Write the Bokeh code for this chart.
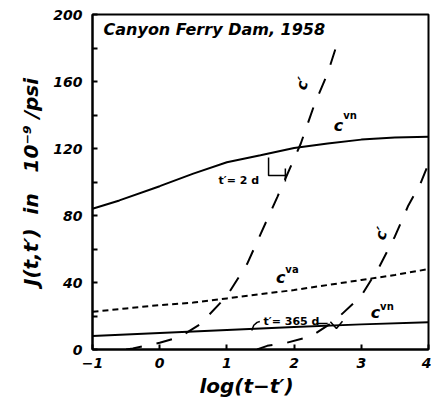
from bokeh.plotting import figure
from bokeh.models import FixedTicker, Range1d
from bokeh.core.properties import value
from bokeh.embed import file_html
from bokeh.resources import INLINE

# ---- data ----
# C^vn for t' = 2 d (solid, upper)
cvn2_x = [-1, -0.6, 0, 0.5, 1.0, 1.5, 2, 2.5, 3, 3.5, 4]
cvn2_y = [84, 89, 97.5, 105, 111.8, 116, 120.3, 123, 125.3, 126.5, 127]
# C^va (short dashes)
cva_x = [-1, -0.5, 0, 0.5, 1, 1.5, 2, 2.5, 3, 3.5, 4]
cva_y = [22.5, 24.5, 26.5, 28, 30.5, 33, 35.5, 38.5, 41.5, 44.5, 48]
# C^vn for t' = 365 d (solid, lower)
cvn365_x = [-1, 0, 1, 2, 3, 4]
cvn365_y = [8, 9.8, 11.7, 13.5, 15, 16.3]
# C' for t' = 2 d (long dashes)
cp2_x = [-0.5, -0.4, 0, 0.3, 0.6, 1.0, 1.3, 1.75, 2.1, 2.3, 2.5, 2.66]
cp2_y = [0, 0.6, 4, 7.5, 15, 32, 51, 91, 123, 146, 165, 185]
# C' for t' = 365 d (long dashes)
cp365_x = [1.45, 1.6, 1.85, 2.25, 2.6, 3.0, 3.27, 3.5, 3.7, 3.88, 4.0]
cp365_y = [0, 2.2, 3.6, 7.8, 17, 32, 49.6, 67.5, 86, 99, 111]

x_ticks = [-1, 0, 1, 2, 3, 4]
y_ticks = [0, 40, 80, 120, 160, 200]
y_minor = [20, 60, 100, 140, 180]

FONT = value("DejaVu Sans")
NB = "\u00a0"

p = figure(width=431, height=402, output_backend="svg", toolbar_location=None,
           x_range=Range1d(-1, 4), y_range=Range1d(0, 200),
           min_border_left=92, min_border_right=3, min_border_top=14, min_border_bottom=53)
p.xgrid.visible = False
p.ygrid.visible = False
p.outline_line_color = "black"
p.outline_line_width = 2
p.background_fill_color = "white"
p.border_fill_color = "white"

for ax in (p.xaxis[0], p.yaxis[0]):
    ax.axis_line_width = 2
    ax.major_tick_in = 5
    ax.major_tick_out = 0
    ax.minor_tick_in = 5
    ax.minor_tick_out = 0
    ax.major_tick_line_width = 2
    ax.minor_tick_line_width = 2
    ax.major_label_text_font = "DejaVu Sans"
    ax.major_label_text_font_style = "bold italic"
    ax.major_label_text_font_size = "14px"
    ax.major_label_text_color = "black"
    ax.axis_label_text_font = "DejaVu Sans"
    ax.axis_label_text_font_style = "bold italic"
    ax.axis_label_text_color = "black"

p.xaxis.ticker = FixedTicker(ticks=x_ticks)
p.xaxis.major_label_overrides = {-1: "\u22121"}
p.xaxis.major_label_standoff = 8
p.xaxis.axis_label = "log(t\u2212t\u2032)" + NB * 4
p.xaxis.axis_label_text_font_size = "20px"
p.xaxis.axis_label_standoff = 3

p.yaxis.ticker = FixedTicker(ticks=y_ticks, minor_ticks=y_minor)
p.yaxis.major_label_standoff = 10
p.yaxis.axis_label = ("J(t,t\u2032)" + NB * 2 + "in" + NB * 3 + "10\u207b\u2079"
                      + NB + "/psi")
p.yaxis.axis_label_text_font_size = "20px"
p.yaxis.axis_label_standoff = 7

# curves
p.line(cvn2_x, cvn2_y, line_color="black", line_width=2)
p.line(cvn365_x, cvn365_y, line_color="black", line_width=2)
p.line(cva_x, cva_y, line_color="black", line_width=2, line_dash="6 4")
p.line(cp2_x, cp2_y, line_color="black", line_width=2, line_dash="16 15")
p.line(cp365_x, cp365_y, line_color="black", line_width=2, line_dash="16 15")

# brackets for annotations
p.line([1.62, 1.62, 1.87], [114.6, 103.9, 103.9], line_color="black", line_width=1.5)
p.line([1.87, 1.87], [100.3, 108], line_color="black", line_width=1.5)
p.line([1.37, 1.40, 1.45, 1.49], [11.3, 14.5, 16.2, 16.7], line_color="black", line_width=1.5)
p.line([2.35, 2.50], [15.5, 15.5], line_color="black", line_width=1.5)
p.line([2.54, 2.63, 2.72], [16.5, 12.5, 16.9], line_color="black", line_width=1.5)

# texts
p.text(x=[-0.836], y=[191.3], text=["Canyon Ferry Dam, 1958"], text_font=FONT,
       text_font_style="bold italic", text_font_size="16px", text_baseline="middle",
       text_align="left", text_color="black")
p.text(x=[0.875], y=[100.9], text=["t\u2032= 2 d"], text_font=FONT,
       text_font_style="bold", text_font_size="11px", text_baseline="middle",
       text_align="left", text_color="black")
p.text(x=[1.545], y=[16.7], text=["t\u2032= 365 d"], text_font=FONT,
       text_font_style="bold", text_font_size="11px", text_baseline="middle",
       text_align="left", text_color="black")
# C' labels (rotated along the dashed lines)
p.text(x=[2.125, 3.30], y=[158.8, 69.3], text=["c\u2032", "c\u2032"], angle=1.35,
       text_font=FONT, text_font_style="bold italic", text_font_size="15px",
       text_baseline="middle", text_align="center", text_color="black")
# C^vn / C^va labels
p.text(x=[2.66, 1.80, 3.21], y=[133.7, 43, 22.1], text=["c", "c", "c"], text_font=FONT,
       text_font_style="bold italic", text_font_size="16px", text_baseline="middle",
       text_align="center", text_color="black")
p.text(x=[2.73, 1.87, 3.28], y=[139.5, 47.5, 25.5], text=["vn", "va", "vn"], text_font=FONT,
       text_font_style="bold", text_font_size="10px", text_baseline="middle",
       text_align="left", text_color="black")

open("out.html", "w").write(file_html(p, INLINE))
